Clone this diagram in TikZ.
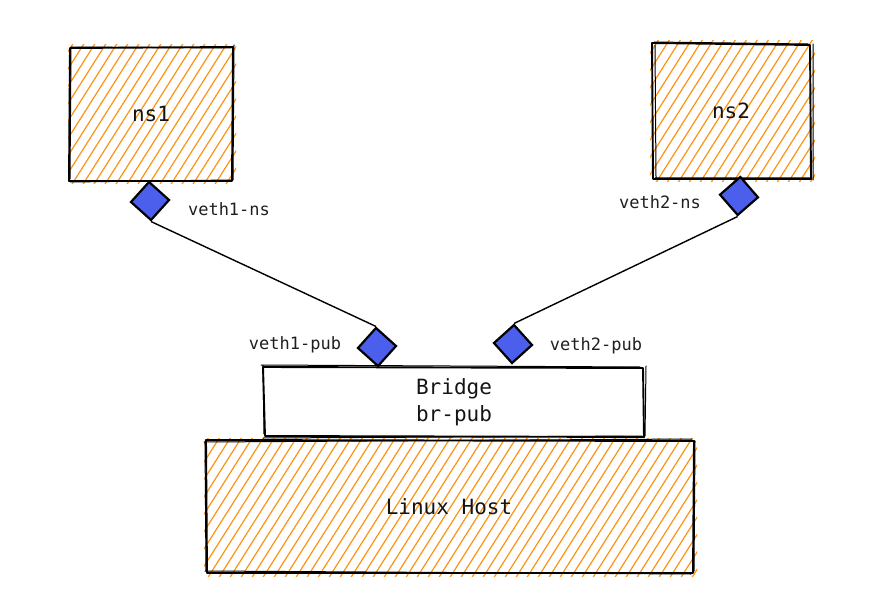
\documentclass[tikz,border=0pt]{standalone}
\usepackage{fontspec}
\setmonofont{DejaVu Sans Mono}
\usetikzlibrary{shapes.geometric}
\definecolor{hachorange}{RGB}{253,146,20}
\definecolor{portblue}{RGB}{76,94,236}
\tikzset{
  hach/.style={draw=hachorange, line width=1.2pt},
  sk/.style={draw=black, line width=1.9pt, line cap=round, line join=round},
  port/.style={diamond, draw=black, line width=2.2pt, fill=portblue, minimum width=39pt, minimum height=39pt, inner sep=0pt},
  lbl/.style={font=\ttfamily\fontsize{17}{20}\selectfont, text=black!88},
  big/.style={font=\ttfamily\fontsize{21}{27}\selectfont, text=black!92, align=center},
  wire/.style={draw=black, line width=1.4pt}
}
\begin{document}
\begin{tikzpicture}[x=1pt,y=-1pt]
\useasboundingbox (0,0) rectangle (891,596);
% hachure fills
\foreach \xa/\ya/\xb/\yb in {70/47/233/181, 652/43/812/179, 206/440/694/573}{
  \begin{scope}
    \clip (\xa-2,\ya-2) rectangle (\xb+3,\yb+3);
    \foreach \i in {-600,-589,...,900} \draw[hach] (\i,620) -- (\i+380,20);
  \end{scope}
}
% ns1 box
\node[big] (ns1) at (151,114) {ns1};
\draw[sk] (70,48) -- (233,47) -- (232,181) -- (69,181) -- cycle;
\draw[sk, line width=1pt] (72,47) -- (231,48) (234,45) -- (233,180) (70,182) -- (231,180) (71,47) -- (70,179);
% ns2 box
\node[big] (ns2) at (731,111) {ns2};
\draw[sk] (652,43) -- (810,45) -- (811,179) -- (653,179) -- cycle;
\draw[sk, line width=1pt] (654,42) -- (808,44) (813,44) -- (813,180) (655,178) -- (810,178) (655,45) -- (656,177);
% bridge
\node[big] (br) at (454,402) {Bridge\\br-pub};
\draw[sk] (263,367) -- (643,368) -- (644,437) -- (265,436) -- cycle;
\draw[sk, line width=1pt] (261,365) -- (640,367) (646,366) -- (645,436) (263,438) -- (642,436) (263,366) -- (264,434);
% linux host
\node[big] (host) at (449,507) {Linux Host};
\draw[sk] (206,440) -- (694,441) -- (693,573) -- (207,573) -- cycle;
\draw[sk, line width=1pt] (204,442) -- (692,439) (695,441) -- (694,571) (205,571) -- (691,574) (205,441) -- (206,571);
% ports
\node[port, rotate=3] (v1ns) at (150,201) {};
\node[port, rotate=-4] (v2ns) at (739,196) {};
\node[port, rotate=3] (v1pub) at (377,347) {};
\node[port, rotate=-3] (v2pub) at (513,344) {};
% wires
\draw[wire] (v1ns.south) -- (v1pub.north);
\draw[wire] (v2ns.south) -- (v2pub.north);
% labels
\node[lbl] (l1) at (229,209) {veth1-ns};
\node[lbl] (l2) at (660,202) {veth2-ns};
\node[lbl] (l3) at (295,345) {veth1-pub};
\node[lbl] (l4) at (596,346) {veth2-pub};
\end{tikzpicture}
\end{document}
